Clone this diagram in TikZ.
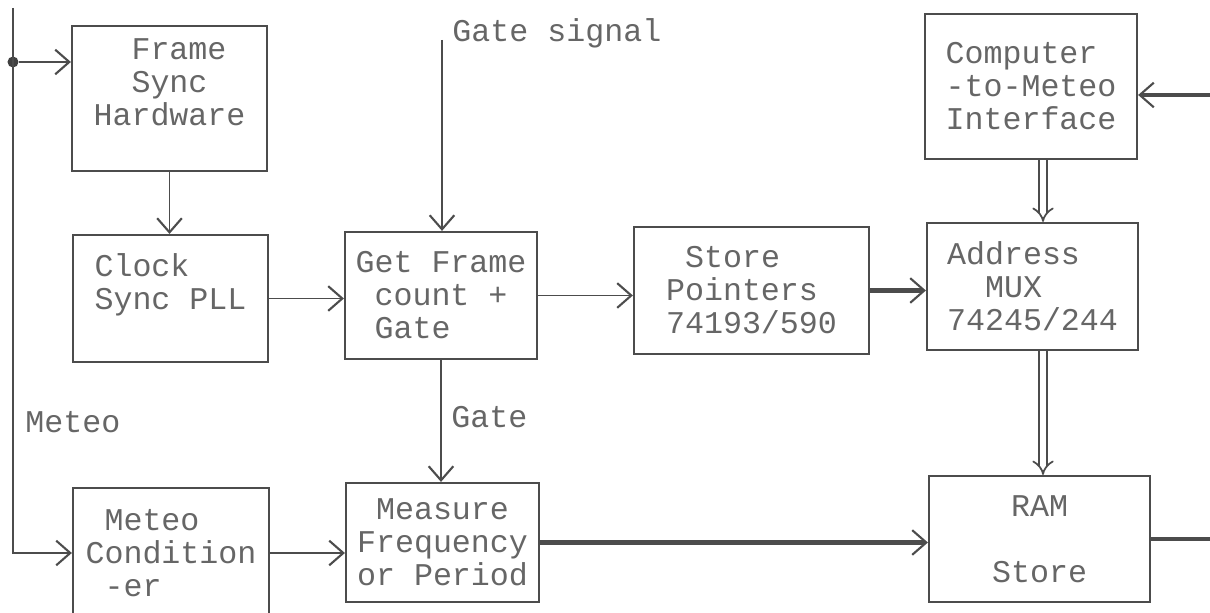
\documentclass[tikz,border=0pt]{standalone}
\usepackage{fontspec}
\setmonofont{Liberation Mono}
\usepackage{xcolor}
\usetikzlibrary{arrows.meta, positioning}
\tikzset{
  blockbox/.style={rectangle, draw=black!70, line width=0.6pt, align=left,
                   inner sep=2pt, text=black!60},
  arrow/.style={-{Straight Barb[length=4pt, width=7pt, line width=0.6pt]},
                draw=black!70, line width=0.5pt},
  busarrow/.style={-{Straight Barb[length=4pt, width=7pt, line width=0.6pt]},
                   draw=black!70, line width=1.4pt},
  dblarrow/.style={-{Implies}, draw=black!70, double, double distance=1.6pt,
                   line width=0.5pt},
  siglabel/.style={text=black!60, inner sep=1pt},
}

\begin{document}
\begin{tikzpicture}[x=0.01cm, y=-0.01cm,
  every node/.style={font=\ttfamily\fontsize{9}{9.4}\selectfont},
  dotnode/.style={circle, fill=black!75, inner sep=0pt, minimum size=1.1mm},
]
  \useasboundingbox (0,0) rectangle (1210,613);

  \node[blockbox, minimum width=1.95cm, minimum height=1.45cm] (fsh) at (169.5,98.5)
    {\ \ Frame\\\ \ Sync\\Hardware\\~};
  \node[blockbox, minimum width=1.95cm, minimum height=1.27cm] (csp) at (170.5,298.5)
    {Clock\\Sync PLL\\~};
  \node[blockbox, minimum width=1.92cm, minimum height=1.27cm] (gfc) at (441,295.5)
    {Get Frame\\\ count +\\\ Gate};
  \node[blockbox, minimum width=2.35cm, minimum height=1.27cm] (spt) at (751.5,290.5)
    {\ Store\\Pointers\\74193/590};
  \node[blockbox, minimum width=2.12cm, minimum height=1.45cm] (cmi) at (1031,86.5)
    {Computer\\-to-Meteo\\Interface};
  \node[blockbox, minimum width=2.11cm, minimum height=1.27cm] (amx) at (1032.5,286.5)
    {Address\\\ \ MUX\\74245/244};
  \node[blockbox, minimum width=1.96cm, minimum height=1.30cm] (mco) at (171,553)
    {\ Meteo\\Condition\\\ -er};
  \node[blockbox, minimum width=1.93cm, minimum height=1.19cm] (mfp) at (442.5,542.5)
    {\ Measure\\Frequency\\or Period};
  \node[blockbox, minimum width=2.21cm, minimum height=1.26cm] (ram) at (1039.5,539)
    {\ RAM\\~\\Store};

  \coordinate (ltop) at (13,8);
  \coordinate (gsig) at (442,40);
  \coordinate (cin)  at (1210,95);
  \coordinate (rout) at (1210,539);
  \node[dotnode] (jn) at (13,62) {};

  % meteo input and frame sync branch
  \draw[arrow] (ltop) |- node[siglabel, right, pos=0.38, xshift=0.8mm]{Meteo} (mco.west);
  \draw[arrow] (jn) -- (jn -| fsh.west);
  \draw[arrow] (fsh.south) -- (fsh.south |- csp.north);
  \draw[arrow] (csp.east) -- (csp.east -| gfc.west);
  \draw[arrow] (gsig) node[siglabel, anchor=west, xshift=0.6mm, yshift=0.7mm]{Gate signal}
    -- (gsig |- gfc.north);
  \draw[arrow] (gfc.east) -- (gfc.east -| spt.west);
  \draw[arrow] (gfc.south) -- node[siglabel, right, pos=0.47, xshift=0.6mm]{Gate}
    (gfc.south |- mfp.north);
  \draw[arrow] (mco.east) -- (mco.east -| mfp.west);

  % data paths
  \draw[busarrow] (spt.east) -- (spt.east -| amx.west);
  \draw[busarrow] (mfp.east) -- (mfp.east -| ram.west);
  \draw[busarrow, -] (ram.east) -- (rout);
  \draw[busarrow] (cin) -- (cin -| cmi.east);
  \draw[dblarrow] ([xshift=1.2mm]cmi.south) -- ([xshift=1.2mm]cmi.south |- amx.north);
  \draw[dblarrow] ([xshift=1.05mm]amx.south) -- ([xshift=1.05mm]amx.south |- ram.north);
\end{tikzpicture}
\end{document}
